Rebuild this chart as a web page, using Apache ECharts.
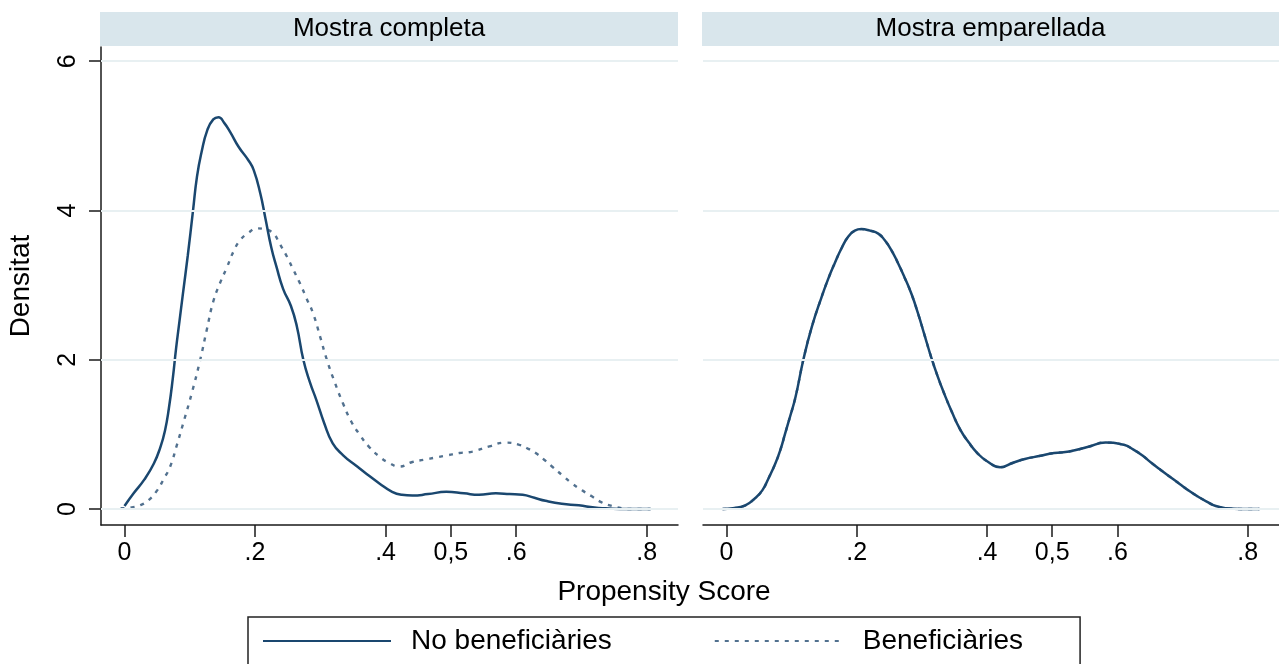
<!DOCTYPE html>
<html><head><meta charset="utf-8">
<script src="https://cdn.jsdelivr.net/npm/echarts@6/dist/echarts.min.js"></script>
<style>html,body{margin:0;padding:0;background:#fff}#c{width:1279px;height:664px}</style>
</head><body><div id="c"></div>
<script>
const panelTitles = ['Mostra completa', 'Mostra emparellada'];
const seriesNames = ['No beneficiàries', 'Beneficiàries'];
const xTickValues = [0, 0.2, 0.4, 0.5, 0.6, 0.8];
const xTickLabels = ['0', '.2', '.4', '0,5', '.6', '.8'];
const yTickValues = [0, 2, 4, 6];
const yTickLabels = ['0', '2', '4', '6'];
const xTitle = 'Propensity Score';
const yTitle = 'Densitat';

// Mostra completa - No beneficiàries (solid)
const noBenefFull = [[0.0,0.04],[0.014,0.21],[0.03,0.39],[0.045,0.61],[0.055,0.83],[0.062,1.05],[0.068,1.35],[0.074,1.75],[0.079,2.15],[0.084,2.5],[0.089,2.85],[0.097,3.4],[0.105,4.0],[0.111,4.45],[0.118,4.78],[0.127,5.08],[0.136,5.22],[0.144,5.25],[0.153,5.17],[0.162,5.05],[0.175,4.85],[0.19,4.67],[0.198,4.54],[0.208,4.23],[0.216,3.89],[0.225,3.5],[0.233,3.24],[0.243,2.95],[0.255,2.72],[0.264,2.45],[0.274,2.0],[0.284,1.7],[0.294,1.46],[0.306,1.15],[0.319,0.88],[0.335,0.72],[0.355,0.58],[0.371,0.47],[0.391,0.34],[0.41,0.23],[0.425,0.19],[0.441,0.18],[0.465,0.2],[0.493,0.23],[0.52,0.21],[0.543,0.19],[0.569,0.21],[0.59,0.2],[0.61,0.19],[0.628,0.15],[0.645,0.11],[0.67,0.07],[0.696,0.05],[0.72,0.02],[0.737,0.01],[0.77,0.0],[0.806,0.0]];
// Mostra completa - Beneficiàries (dotted)
const benefFull = [[-0.006,0.01],[0.01,0.02],[0.024,0.05],[0.037,0.12],[0.05,0.25],[0.06,0.4],[0.07,0.57],[0.08,0.85],[0.09,1.15],[0.103,1.55],[0.116,2.0],[0.126,2.4],[0.136,2.78],[0.146,3.02],[0.157,3.24],[0.167,3.45],[0.177,3.6],[0.19,3.7],[0.203,3.76],[0.215,3.75],[0.228,3.69],[0.238,3.55],[0.249,3.38],[0.259,3.2],[0.269,3.02],[0.279,2.82],[0.289,2.62],[0.3,2.3],[0.31,2.0],[0.322,1.7],[0.335,1.41],[0.347,1.18],[0.36,1.0],[0.375,0.83],[0.391,0.7],[0.405,0.62],[0.421,0.57],[0.441,0.63],[0.459,0.66],[0.477,0.69],[0.495,0.72],[0.513,0.75],[0.533,0.77],[0.559,0.84],[0.584,0.89],[0.605,0.86],[0.618,0.81],[0.63,0.75],[0.643,0.66],[0.655,0.57],[0.671,0.45],[0.686,0.34],[0.701,0.25],[0.716,0.17],[0.731,0.09],[0.747,0.04],[0.762,0.01],[0.777,0.0],[0.806,0.0]];
// Mostra emparellada - No beneficiàries (solid)
const noBenefMatched = [[-0.006,0.0],[0.01,0.01],[0.029,0.05],[0.042,0.13],[0.055,0.25],[0.065,0.42],[0.075,0.61],[0.083,0.8],[0.09,1.01],[0.098,1.25],[0.106,1.5],[0.118,2.0],[0.131,2.44],[0.146,2.84],[0.156,3.08],[0.166,3.29],[0.177,3.5],[0.187,3.65],[0.197,3.73],[0.207,3.75],[0.22,3.73],[0.233,3.69],[0.243,3.6],[0.253,3.47],[0.263,3.3],[0.273,3.11],[0.284,2.88],[0.294,2.62],[0.304,2.33],[0.314,2.04],[0.324,1.78],[0.334,1.55],[0.346,1.3],[0.359,1.06],[0.372,0.89],[0.385,0.75],[0.4,0.64],[0.42,0.56],[0.44,0.62],[0.458,0.67],[0.48,0.71],[0.503,0.75],[0.526,0.77],[0.554,0.83],[0.582,0.89],[0.61,0.86],[0.624,0.8],[0.638,0.72],[0.652,0.62],[0.667,0.52],[0.681,0.43],[0.695,0.34],[0.709,0.25],[0.723,0.17],[0.737,0.1],[0.751,0.04],[0.768,0.01],[0.79,0.0],[0.818,0.0]];
// Mostra emparellada - Beneficiàries (dotted, coincides with the solid curve)
const benefMatched = [[-0.006,0.0],[0.01,0.01],[0.029,0.05],[0.042,0.13],[0.055,0.25],[0.065,0.42],[0.075,0.61],[0.083,0.8],[0.09,1.01],[0.098,1.25],[0.106,1.5],[0.118,2.0],[0.131,2.44],[0.146,2.84],[0.156,3.08],[0.166,3.29],[0.177,3.5],[0.187,3.65],[0.197,3.73],[0.207,3.75],[0.22,3.73],[0.233,3.69],[0.243,3.6],[0.253,3.47],[0.263,3.3],[0.273,3.11],[0.284,2.88],[0.294,2.62],[0.304,2.33],[0.314,2.04],[0.324,1.78],[0.334,1.55],[0.346,1.3],[0.359,1.06],[0.372,0.89],[0.385,0.75],[0.4,0.64],[0.42,0.56],[0.44,0.62],[0.458,0.67],[0.48,0.71],[0.503,0.75],[0.526,0.77],[0.554,0.83],[0.582,0.89],[0.61,0.86],[0.624,0.8],[0.638,0.72],[0.652,0.62],[0.667,0.52],[0.681,0.43],[0.695,0.34],[0.709,0.25],[0.723,0.17],[0.737,0.1],[0.751,0.04],[0.768,0.01],[0.79,0.0],[0.818,0.0]];

const FONT = "'Liberation Sans', Arial, sans-serif";
const NAVY = '#1a476f';
const DOT = '#52718f';
const GRIDC = '#e8f0f2';
const AXC = '#1a1a1a';

function xLabel(v) {
  const i = xTickValues.findIndex(t => Math.abs(t - v) < 1e-9);
  return i >= 0 ? xTickLabels[i] : '';
}
function yLabel(v) {
  const i = yTickValues.findIndex(t => Math.abs(t - v) < 1e-9);
  return i >= 0 ? yTickLabels[i] : '';
}

const grids = [
  { left: 101, top: 47, width: 577, height: 478 },
  { left: 703, top: 47, width: 577, height: 478 }
];

const xAxes = [0, 1].map(i => ({
  type: 'value', gridIndex: i, min: -0.036, max: 0.848,
  axisLine: { show: true, onZero: false, lineStyle: { color: AXC, width: 1.5 } },
  axisTick: { show: true, customValues: xTickValues, length: 12, lineStyle: { color: AXC, width: 1.5 } },
  axisLabel: { customValues: xTickValues, formatter: xLabel, fontSize: 25, color: '#000', margin: 16, fontFamily: FONT },
  splitLine: { show: false }
}));

const yAxes = [0, 1].map(i => ({
  type: 'value', gridIndex: i, min: -0.214, max: 6.19,
  axisLine: { show: i === 0, onZero: false, lineStyle: { color: AXC, width: 1.5 } },
  axisTick: { show: i === 0, customValues: yTickValues, length: 12, lineStyle: { color: AXC, width: 1.5 } },
  axisLabel: { show: i === 0, customValues: yTickValues, formatter: yLabel, rotate: 90, fontSize: 25, color: '#000', margin: 20, fontFamily: FONT },
  splitLine: { show: false },
  name: i === 0 ? yTitle : '', nameLocation: 'middle', nameRotate: 90, nameGap: 66,
  nameTextStyle: { fontSize: 28, color: '#000', fontFamily: FONT }
}));

function gridSeries(i) {
  return {
    type: 'line', xAxisIndex: i, yAxisIndex: i, data: [], z: 1, silent: true,
    markLine: {
      silent: true, symbol: ['none', 'none'], label: { show: false },
      lineStyle: { color: GRIDC, width: 2, type: 'solid' },
      emphasis: { disabled: true },
      data: yTickValues.map(v => ({ yAxis: v }))
    }
  };
}
function curve(name, data, i, dotted) {
  return {
    type: 'line', name: name, xAxisIndex: i, yAxisIndex: i, data: data,
    symbol: 'none', showSymbol: false, smooth: 0.5,
    z: dotted ? 3 : 4, silent: true,
    lineStyle: dotted ? { color: DOT, width: 2.4, type: [4, 6] } : { color: NAVY, width: 2.5, type: 'solid' },
    itemStyle: { color: dotted ? DOT : NAVY }
  };
}

const option = {
  animation: false,
  backgroundColor: '#fff',
  grid: grids,
  xAxis: xAxes,
  yAxis: yAxes,
  legend: {
    data: seriesNames, left: 248, top: 617, orient: 'horizontal',
    itemWidth: 128, itemHeight: 30, itemGap: 102,
    padding: [10, 57, 40, 14],
    borderColor: '#222', borderWidth: 1.5, backgroundColor: '#fff',
    selectedMode: false,
    itemStyle: { opacity: 0, borderWidth: 0 },
    textStyle: { fontSize: 28, color: '#000', fontFamily: FONT, padding: [0, 0, 0, 15] }
  },
  graphic: [
    { type: 'rect', shape: { x: 100, y: 12, width: 578, height: 34 }, style: { fill: '#d9e6ec' }, silent: true },
    { type: 'rect', shape: { x: 702, y: 12, width: 577, height: 34 }, style: { fill: '#d9e6ec' }, silent: true },
    { type: 'text', x: 389, y: 29, silent: true, style: { text: panelTitles[0], fontSize: 26, fontFamily: FONT, fill: '#000', align: 'center', verticalAlign: 'middle' } },
    { type: 'text', x: 990.5, y: 29, silent: true, style: { text: panelTitles[1], fontSize: 26, fontFamily: FONT, fill: '#000', align: 'center', verticalAlign: 'middle' } },
    { type: 'text', x: 664, y: 592, silent: true, style: { text: xTitle, fontSize: 28, fontFamily: FONT, fill: '#000', align: 'center', verticalAlign: 'middle' } }
  ],
  series: [
    gridSeries(0), gridSeries(1),
    curve(seriesNames[1], benefFull, 0, true),
    curve(seriesNames[0], noBenefFull, 0, false),
    curve(seriesNames[1], benefMatched, 1, true),
    curve(seriesNames[0], noBenefMatched, 1, false)
  ]
};

const chart = echarts.init(document.getElementById('c'), null, { renderer: 'canvas' });
chart.setOption(option);
</script>
</body></html>
